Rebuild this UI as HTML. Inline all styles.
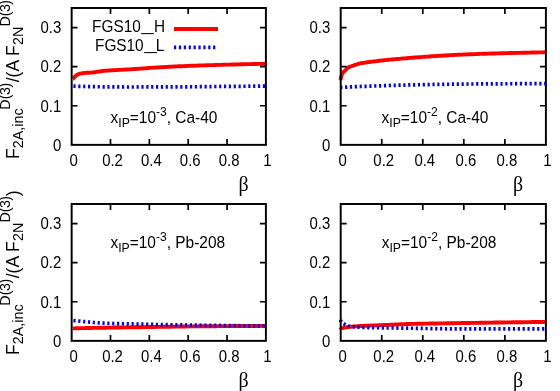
<!DOCTYPE html>
<html><head><meta charset="utf-8"><title>plot</title>
<style>
html,body{margin:0;padding:0;background:#fff;}
body{width:560px;height:391px;overflow:hidden;font-family:"Liberation Sans",sans-serif;}
svg{display:block;will-change:transform;}
text{font-family:"Liberation Sans",sans-serif;fill:#000;}
.sym{font-family:"Liberation Serif",serif;}
</style></head><body>
<svg width="560" height="391" viewBox="0 0 560 391">
<rect x="0" y="0" width="560" height="391" fill="#ffffff"/>
<g>
<path d="M72.82,78.78 L72.83,78.77 L72.87,78.75 L72.94,78.73 L73.03,78.68 L73.15,78.61 L73.30,78.50 L73.47,78.33 L73.67,78.10 L73.90,77.83 L74.16,77.51 L74.44,77.16 L74.75,76.80 L75.08,76.44 L75.44,76.11 L75.83,75.80 L76.25,75.48 L76.69,75.15 L77.16,74.82 L77.66,74.52 L78.18,74.25 L78.73,74.04 L79.31,73.87 L79.91,73.71 L80.54,73.57 L81.20,73.43 L81.88,73.31 L82.59,73.20 L83.33,73.11 L84.09,73.02 L84.88,72.94 L85.70,72.87 L86.55,72.82 L87.42,72.77 L88.32,72.73 L89.24,72.69 L90.19,72.64 L91.17,72.58 L92.18,72.51 L93.21,72.40 L94.27,72.26 L95.36,72.11 L96.47,71.94 L97.61,71.76 L98.77,71.57 L99.97,71.39 L101.19,71.21 L102.44,71.05 L103.71,70.91 L105.01,70.79 L106.34,70.68 L107.69,70.58 L109.07,70.48 L110.48,70.39 L111.92,70.31 L113.38,70.23 L114.87,70.15 L116.38,70.07 L117.92,69.99 L119.49,69.91 L121.09,69.83 L122.71,69.75 L124.36,69.66 L126.03,69.57 L127.74,69.48 L129.47,69.38 L131.22,69.27 L133.01,69.15 L134.82,69.03 L136.65,68.90 L138.52,68.77 L140.41,68.63 L142.33,68.49 L144.27,68.35 L146.24,68.21 L148.24,68.06 L150.26,67.92 L152.32,67.78 L154.39,67.64 L156.50,67.50 L158.63,67.36 L160.79,67.23 L162.98,67.11 L165.19,66.99 L167.43,66.87 L169.69,66.75 L171.99,66.64 L174.31,66.53 L176.65,66.42 L179.03,66.31 L181.43,66.20 L183.85,66.09 L186.31,65.99 L188.79,65.89 L191.29,65.79 L193.83,65.69 L196.39,65.60 L198.98,65.51 L201.59,65.42 L204.23,65.33 L206.90,65.25 L209.60,65.16 L212.32,65.08 L215.07,64.99 L217.84,64.91 L220.65,64.83 L223.48,64.75 L226.33,64.67 L229.21,64.59 L232.12,64.52 L235.06,64.44 L238.02,64.37 L241.01,64.30 L244.03,64.23 L247.07,64.16 L250.14,64.10 L253.24,64.03 L256.37,63.97 L259.52,63.91 L262.70,63.85 L265.90,63.80" fill="none" stroke="#ff0000" stroke-width="3.9" stroke-linejoin="round" stroke-linecap="butt"/>
<path d="M72.82,86.03 L72.83,86.03 L72.87,86.04 L72.94,86.04 L73.03,86.05 L73.15,86.06 L73.30,86.07 L73.47,86.08 L73.67,86.10 L73.90,86.11 L74.16,86.13 L74.44,86.15 L74.75,86.16 L75.08,86.18 L75.44,86.20 L75.83,86.21 L76.25,86.23 L76.69,86.25 L77.16,86.27 L77.66,86.29 L78.18,86.30 L78.73,86.32 L79.31,86.34 L79.91,86.36 L80.54,86.37 L81.20,86.39 L81.88,86.41 L82.59,86.43 L83.33,86.44 L84.09,86.46 L84.88,86.48 L85.70,86.50 L86.55,86.52 L87.42,86.54 L88.32,86.56 L89.24,86.58 L90.19,86.60 L91.17,86.62 L92.18,86.64 L93.21,86.66 L94.27,86.67 L95.36,86.69 L96.47,86.71 L97.61,86.73 L98.77,86.75 L99.97,86.77 L101.19,86.79 L102.44,86.80 L103.71,86.82 L105.01,86.84 L106.34,86.85 L107.69,86.87 L109.07,86.88 L110.48,86.89 L111.92,86.91 L113.38,86.92 L114.87,86.93 L116.38,86.94 L117.92,86.95 L119.49,86.96 L121.09,86.96 L122.71,86.97 L124.36,86.98 L126.03,86.98 L127.74,86.98 L129.47,86.98 L131.22,86.98 L133.01,86.98 L134.82,86.98 L136.65,86.98 L138.52,86.97 L140.41,86.97 L142.33,86.97 L144.27,86.96 L146.24,86.96 L148.24,86.95 L150.26,86.95 L152.32,86.94 L154.39,86.93 L156.50,86.93 L158.63,86.92 L160.79,86.91 L162.98,86.90 L165.19,86.89 L167.43,86.88 L169.69,86.87 L171.99,86.86 L174.31,86.85 L176.65,86.84 L179.03,86.83 L181.43,86.82 L183.85,86.81 L186.31,86.80 L188.79,86.78 L191.29,86.77 L193.83,86.75 L196.39,86.73 L198.98,86.70 L201.59,86.68 L204.23,86.65 L206.90,86.62 L209.60,86.58 L212.32,86.55 L215.07,86.52 L217.84,86.49 L220.65,86.46 L223.48,86.43 L226.33,86.40 L229.21,86.38 L232.12,86.35 L235.06,86.33 L238.02,86.30 L241.01,86.28 L244.03,86.25 L247.07,86.23 L250.14,86.20 L253.24,86.18 L256.37,86.15 L259.52,86.13 L262.70,86.11 L265.90,86.08" fill="none" stroke="#0000ff" stroke-width="3.7" stroke-dasharray="2.2 2.657" stroke-dashoffset="-0.60" stroke-linejoin="round"/>
<rect x="71.65" y="8.00" width="194.25" height="136.85" fill="none" stroke="#000" stroke-width="1.95"/>
<path d="M110.50,144.85v-5.90 M110.50,8.00v5.90 M149.35,144.85v-5.90 M149.35,8.00v5.90 M188.20,144.85v-5.90 M188.20,8.00v5.90 M227.05,144.85v-5.90 M227.05,8.00v5.90 M71.65,105.75h5.90 M265.90,105.75h-5.90 M71.65,66.65h5.90 M265.90,66.65h-5.90 M71.65,27.55h5.90 M265.90,27.55h-5.90" stroke="#000" stroke-width="1.7" fill="none"/>
<text transform="translate(73.65,166.05) scale(0.945,1)" font-size="15.80" text-anchor="middle">0</text>
<text transform="translate(112.50,166.05) scale(0.945,1)" font-size="15.80" text-anchor="middle">0.2</text>
<text transform="translate(151.35,166.05) scale(0.945,1)" font-size="15.80" text-anchor="middle">0.4</text>
<text transform="translate(190.20,166.05) scale(0.945,1)" font-size="15.80" text-anchor="middle">0.6</text>
<text transform="translate(229.05,166.05) scale(0.945,1)" font-size="15.80" text-anchor="middle">0.8</text>
<text transform="translate(267.30,166.05) scale(0.945,1)" font-size="15.80" text-anchor="middle">1</text>
<text transform="translate(61.25,150.65) scale(0.945,1)" font-size="15.80" text-anchor="end">0</text>
<text transform="translate(61.25,111.55) scale(0.945,1)" font-size="15.80" text-anchor="end">0.1</text>
<text transform="translate(61.25,72.45) scale(0.945,1)" font-size="15.80" text-anchor="end">0.2</text>
<text transform="translate(61.25,33.35) scale(0.945,1)" font-size="15.80" text-anchor="end">0.3</text>
<text transform="translate(243.65,191.00) scale(0.910,1)" font-size="21.90" text-anchor="middle" class="sym">β</text>
<text transform="translate(110.50,123.10) scale(0.950,1)" font-size="16.30">x<tspan font-size="12.88" dy="4">IP</tspan><tspan dy="-4">=10</tspan><tspan font-size="12.71" dy="-7.5">-3</tspan><tspan dy="7.5">, Ca-40</tspan></text>
</g>
<g>
<path d="M340.70,80.33 L340.71,79.71 L340.76,79.09 L340.83,78.47 L340.93,77.84 L341.06,77.22 L341.21,76.59 L341.40,75.96 L341.61,75.29 L341.85,74.62 L342.12,73.96 L342.42,73.35 L342.75,72.82 L343.11,72.36 L343.49,71.95 L343.91,71.57 L344.35,71.19 L344.82,70.80 L345.32,70.36 L345.84,69.84 L346.40,69.18 L346.98,68.49 L347.60,67.89 L348.24,67.48 L348.91,67.12 L349.61,66.81 L350.33,66.53 L351.09,66.27 L351.87,66.02 L352.68,65.77 L353.52,65.50 L354.39,65.22 L355.29,64.91 L356.22,64.59 L357.17,64.27 L358.16,63.96 L359.17,63.67 L360.21,63.41 L361.28,63.19 L362.37,62.99 L363.50,62.80 L364.65,62.63 L365.84,62.46 L367.05,62.30 L368.29,62.15 L369.56,61.99 L370.85,61.83 L372.18,61.67 L373.53,61.50 L374.91,61.33 L376.32,61.15 L377.76,60.97 L379.23,60.79 L380.73,60.61 L382.25,60.44 L383.81,60.26 L385.39,60.09 L387.00,59.93 L388.64,59.76 L390.30,59.60 L392.00,59.45 L393.72,59.29 L395.48,59.14 L397.26,58.98 L399.07,58.83 L400.91,58.67 L402.77,58.51 L404.67,58.35 L406.59,58.19 L408.54,58.03 L410.52,57.87 L412.53,57.71 L414.57,57.55 L416.64,57.39 L418.73,57.23 L420.86,57.07 L423.01,56.91 L425.19,56.75 L427.40,56.60 L429.63,56.45 L431.90,56.30 L434.19,56.15 L436.52,56.00 L438.87,55.86 L441.25,55.72 L443.66,55.57 L446.09,55.43 L448.56,55.29 L451.05,55.15 L453.57,55.01 L456.12,54.88 L458.70,54.75 L461.31,54.63 L463.95,54.51 L466.61,54.39 L469.31,54.28 L472.03,54.18 L474.78,54.08 L477.56,53.98 L480.36,53.89 L483.20,53.80 L486.06,53.71 L488.96,53.63 L491.88,53.55 L494.83,53.47 L497.81,53.39 L500.81,53.31 L503.85,53.23 L506.91,53.15 L510.00,53.07 L513.12,52.99 L516.27,52.91 L519.45,52.83 L522.66,52.76 L525.89,52.69 L529.16,52.61 L532.45,52.54 L535.77,52.47 L539.12,52.40 L542.49,52.33 L545.90,52.26" fill="none" stroke="#ff0000" stroke-width="3.9" stroke-linejoin="round" stroke-linecap="butt"/>
<path d="M340.70,87.29 L340.71,87.29 L340.76,87.29 L340.83,87.29 L340.93,87.28 L341.06,87.28 L341.21,87.27 L341.40,87.26 L341.61,87.25 L341.85,87.24 L342.12,87.23 L342.42,87.22 L342.75,87.21 L343.11,87.19 L343.49,87.18 L343.91,87.17 L344.35,87.15 L344.82,87.14 L345.32,87.12 L345.84,87.10 L346.40,87.08 L346.98,87.05 L347.60,87.02 L348.24,86.99 L348.91,86.96 L349.61,86.93 L350.33,86.89 L351.09,86.85 L351.87,86.82 L352.68,86.78 L353.52,86.74 L354.39,86.70 L355.29,86.66 L356.22,86.63 L357.17,86.59 L358.16,86.55 L359.17,86.52 L360.21,86.48 L361.28,86.44 L362.37,86.40 L363.50,86.36 L364.65,86.33 L365.84,86.29 L367.05,86.25 L368.29,86.20 L369.56,86.16 L370.85,86.12 L372.18,86.08 L373.53,86.03 L374.91,85.99 L376.32,85.94 L377.76,85.89 L379.23,85.84 L380.73,85.79 L382.25,85.74 L383.81,85.68 L385.39,85.62 L387.00,85.57 L388.64,85.51 L390.30,85.45 L392.00,85.40 L393.72,85.34 L395.48,85.29 L397.26,85.24 L399.07,85.19 L400.91,85.14 L402.77,85.09 L404.67,85.05 L406.59,85.00 L408.54,84.96 L410.52,84.92 L412.53,84.87 L414.57,84.83 L416.64,84.78 L418.73,84.74 L420.86,84.70 L423.01,84.66 L425.19,84.62 L427.40,84.57 L429.63,84.53 L431.90,84.49 L434.19,84.45 L436.52,84.42 L438.87,84.38 L441.25,84.34 L443.66,84.31 L446.09,84.27 L448.56,84.24 L451.05,84.21 L453.57,84.18 L456.12,84.15 L458.70,84.12 L461.31,84.09 L463.95,84.06 L466.61,84.04 L469.31,84.02 L472.03,83.99 L474.78,83.97 L477.56,83.95 L480.36,83.93 L483.20,83.91 L486.06,83.89 L488.96,83.87 L491.88,83.85 L494.83,83.83 L497.81,83.81 L500.81,83.79 L503.85,83.78 L506.91,83.76 L510.00,83.74 L513.12,83.73 L516.27,83.71 L519.45,83.70 L522.66,83.69 L525.89,83.67 L529.16,83.66 L532.45,83.65 L535.77,83.64 L539.12,83.63 L542.49,83.63 L545.90,83.62" fill="none" stroke="#0000ff" stroke-width="3.7" stroke-dasharray="2.2 2.657" stroke-dashoffset="0.50" stroke-linejoin="round"/>
<rect x="340.70" y="8.00" width="205.20" height="136.85" fill="none" stroke="#000" stroke-width="1.95"/>
<path d="M381.74,144.85v-5.90 M381.74,8.00v5.90 M422.78,144.85v-5.90 M422.78,8.00v5.90 M463.82,144.85v-5.90 M463.82,8.00v5.90 M504.86,144.85v-5.90 M504.86,8.00v5.90 M340.70,105.75h5.90 M545.90,105.75h-5.90 M340.70,66.65h5.90 M545.90,66.65h-5.90 M340.70,27.55h5.90 M545.90,27.55h-5.90" stroke="#000" stroke-width="1.7" fill="none"/>
<text transform="translate(342.70,166.05) scale(0.945,1)" font-size="15.80" text-anchor="middle">0</text>
<text transform="translate(383.74,166.05) scale(0.945,1)" font-size="15.80" text-anchor="middle">0.2</text>
<text transform="translate(424.78,166.05) scale(0.945,1)" font-size="15.80" text-anchor="middle">0.4</text>
<text transform="translate(465.82,166.05) scale(0.945,1)" font-size="15.80" text-anchor="middle">0.6</text>
<text transform="translate(506.86,166.05) scale(0.945,1)" font-size="15.80" text-anchor="middle">0.8</text>
<text transform="translate(547.30,166.05) scale(0.945,1)" font-size="15.80" text-anchor="middle">1</text>
<text transform="translate(330.30,150.65) scale(0.945,1)" font-size="15.80" text-anchor="end">0</text>
<text transform="translate(330.30,111.55) scale(0.945,1)" font-size="15.80" text-anchor="end">0.1</text>
<text transform="translate(330.30,72.45) scale(0.945,1)" font-size="15.80" text-anchor="end">0.2</text>
<text transform="translate(330.30,33.35) scale(0.945,1)" font-size="15.80" text-anchor="end">0.3</text>
<text transform="translate(518.05,191.00) scale(0.910,1)" font-size="21.90" text-anchor="middle" class="sym">β</text>
<text transform="translate(381.50,123.10) scale(0.950,1)" font-size="16.30">x<tspan font-size="12.88" dy="4">IP</tspan><tspan dy="-4">=10</tspan><tspan font-size="12.71" dy="-7.5">-2</tspan><tspan dy="7.5">, Ca-40</tspan></text>
</g>
<g>
<path d="M72.82,328.44 L72.83,328.44 L72.87,328.43 L72.94,328.43 L73.03,328.43 L73.15,328.42 L73.30,328.41 L73.47,328.41 L73.67,328.40 L73.90,328.39 L74.16,328.38 L74.44,328.37 L74.75,328.36 L75.08,328.35 L75.44,328.33 L75.83,328.32 L76.25,328.31 L76.69,328.30 L77.16,328.28 L77.66,328.27 L78.18,328.25 L78.73,328.24 L79.31,328.22 L79.91,328.21 L80.54,328.19 L81.20,328.17 L81.88,328.16 L82.59,328.14 L83.33,328.12 L84.09,328.11 L84.88,328.09 L85.70,328.07 L86.55,328.05 L87.42,328.03 L88.32,328.01 L89.24,327.99 L90.19,327.97 L91.17,327.95 L92.18,327.94 L93.21,327.91 L94.27,327.89 L95.36,327.87 L96.47,327.85 L97.61,327.83 L98.77,327.81 L99.97,327.79 L101.19,327.77 L102.44,327.75 L103.71,327.72 L105.01,327.70 L106.34,327.68 L107.69,327.66 L109.07,327.63 L110.48,327.61 L111.92,327.59 L113.38,327.57 L114.87,327.54 L116.38,327.52 L117.92,327.50 L119.49,327.47 L121.09,327.45 L122.71,327.42 L124.36,327.40 L126.03,327.38 L127.74,327.35 L129.47,327.33 L131.22,327.30 L133.01,327.28 L134.82,327.26 L136.65,327.23 L138.52,327.20 L140.41,327.18 L142.33,327.15 L144.27,327.12 L146.24,327.08 L148.24,327.05 L150.26,327.02 L152.32,326.98 L154.39,326.95 L156.50,326.91 L158.63,326.87 L160.79,326.84 L162.98,326.80 L165.19,326.76 L167.43,326.73 L169.69,326.69 L171.99,326.65 L174.31,326.62 L176.65,326.58 L179.03,326.55 L181.43,326.51 L183.85,326.48 L186.31,326.45 L188.79,326.42 L191.29,326.39 L193.83,326.36 L196.39,326.34 L198.98,326.31 L201.59,326.29 L204.23,326.27 L206.90,326.25 L209.60,326.23 L212.32,326.20 L215.07,326.18 L217.84,326.16 L220.65,326.14 L223.48,326.12 L226.33,326.11 L229.21,326.09 L232.12,326.07 L235.06,326.05 L238.02,326.04 L241.01,326.02 L244.03,326.00 L247.07,325.99 L250.14,325.98 L253.24,325.96 L256.37,325.95 L259.52,325.94 L262.70,325.92 L265.90,325.91" fill="none" stroke="#ff0000" stroke-width="3.9" stroke-linejoin="round" stroke-linecap="butt"/>
<path d="M72.82,320.42 L72.83,320.42 L72.87,320.43 L72.94,320.43 L73.03,320.45 L73.15,320.46 L73.30,320.48 L73.47,320.50 L73.67,320.53 L73.90,320.56 L74.16,320.58 L74.44,320.62 L74.75,320.65 L75.08,320.68 L75.44,320.72 L75.83,320.76 L76.25,320.80 L76.69,320.84 L77.16,320.88 L77.66,320.92 L78.18,320.97 L78.73,321.03 L79.31,321.08 L79.91,321.15 L80.54,321.22 L81.20,321.29 L81.88,321.36 L82.59,321.43 L83.33,321.51 L84.09,321.58 L84.88,321.66 L85.70,321.73 L86.55,321.81 L87.42,321.89 L88.32,321.97 L89.24,322.06 L90.19,322.15 L91.17,322.24 L92.18,322.33 L93.21,322.42 L94.27,322.51 L95.36,322.59 L96.47,322.68 L97.61,322.77 L98.77,322.85 L99.97,322.92 L101.19,323.00 L102.44,323.07 L103.71,323.13 L105.01,323.19 L106.34,323.25 L107.69,323.30 L109.07,323.35 L110.48,323.40 L111.92,323.45 L113.38,323.49 L114.87,323.53 L116.38,323.58 L117.92,323.62 L119.49,323.66 L121.09,323.70 L122.71,323.74 L124.36,323.78 L126.03,323.82 L127.74,323.86 L129.47,323.89 L131.22,323.93 L133.01,323.97 L134.82,324.02 L136.65,324.06 L138.52,324.10 L140.41,324.14 L142.33,324.18 L144.27,324.23 L146.24,324.27 L148.24,324.31 L150.26,324.35 L152.32,324.39 L154.39,324.44 L156.50,324.48 L158.63,324.52 L160.79,324.56 L162.98,324.60 L165.19,324.64 L167.43,324.69 L169.69,324.73 L171.99,324.77 L174.31,324.81 L176.65,324.85 L179.03,324.89 L181.43,324.93 L183.85,324.97 L186.31,325.01 L188.79,325.05 L191.29,325.08 L193.83,325.12 L196.39,325.16 L198.98,325.20 L201.59,325.23 L204.23,325.27 L206.90,325.31 L209.60,325.34 L212.32,325.38 L215.07,325.42 L217.84,325.45 L220.65,325.49 L223.48,325.52 L226.33,325.56 L229.21,325.59 L232.12,325.63 L235.06,325.66 L238.02,325.70 L241.01,325.73 L244.03,325.76 L247.07,325.80 L250.14,325.83 L253.24,325.86 L256.37,325.90 L259.52,325.93 L262.70,325.96 L265.90,325.99" fill="none" stroke="#0000ff" stroke-width="3.7" stroke-dasharray="2.2 2.657" stroke-dashoffset="-0.60" stroke-linejoin="round"/>
<rect x="71.65" y="204.00" width="194.25" height="136.85" fill="none" stroke="#000" stroke-width="1.95"/>
<path d="M110.50,340.85v-5.90 M110.50,204.00v5.90 M149.35,340.85v-5.90 M149.35,204.00v5.90 M188.20,340.85v-5.90 M188.20,204.00v5.90 M227.05,340.85v-5.90 M227.05,204.00v5.90 M71.65,301.75h5.90 M265.90,301.75h-5.90 M71.65,262.65h5.90 M265.90,262.65h-5.90 M71.65,223.55h5.90 M265.90,223.55h-5.90" stroke="#000" stroke-width="1.7" fill="none"/>
<text transform="translate(73.65,362.05) scale(0.945,1)" font-size="15.80" text-anchor="middle">0</text>
<text transform="translate(112.50,362.05) scale(0.945,1)" font-size="15.80" text-anchor="middle">0.2</text>
<text transform="translate(151.35,362.05) scale(0.945,1)" font-size="15.80" text-anchor="middle">0.4</text>
<text transform="translate(190.20,362.05) scale(0.945,1)" font-size="15.80" text-anchor="middle">0.6</text>
<text transform="translate(229.05,362.05) scale(0.945,1)" font-size="15.80" text-anchor="middle">0.8</text>
<text transform="translate(267.30,362.05) scale(0.945,1)" font-size="15.80" text-anchor="middle">1</text>
<text transform="translate(61.25,346.65) scale(0.945,1)" font-size="15.80" text-anchor="end">0</text>
<text transform="translate(61.25,307.55) scale(0.945,1)" font-size="15.80" text-anchor="end">0.1</text>
<text transform="translate(61.25,268.45) scale(0.945,1)" font-size="15.80" text-anchor="end">0.2</text>
<text transform="translate(61.25,229.35) scale(0.945,1)" font-size="15.80" text-anchor="end">0.3</text>
<text transform="translate(243.65,387.00) scale(0.910,1)" font-size="21.90" text-anchor="middle" class="sym">β</text>
<text transform="translate(110.40,248.20) scale(0.950,1)" font-size="16.30">x<tspan font-size="12.88" dy="4">IP</tspan><tspan dy="-4">=10</tspan><tspan font-size="12.71" dy="-7.5">-3</tspan><tspan dy="7.5">, Pb-208</tspan></text>
</g>
<g>
<path d="M340.70,329.35 L340.71,329.24 L340.76,329.12 L340.83,329.00 L340.93,328.89 L341.06,328.77 L341.21,328.66 L341.40,328.55 L341.61,328.44 L341.85,328.34 L342.12,328.23 L342.42,328.13 L342.75,328.03 L343.11,327.93 L343.49,327.83 L343.91,327.74 L344.35,327.64 L344.82,327.55 L345.32,327.46 L345.84,327.37 L346.40,327.28 L346.98,327.20 L347.60,327.11 L348.24,327.03 L348.91,326.95 L349.61,326.87 L350.33,326.80 L351.09,326.72 L351.87,326.65 L352.68,326.58 L353.52,326.51 L354.39,326.44 L355.29,326.38 L356.22,326.31 L357.17,326.24 L358.16,326.18 L359.17,326.12 L360.21,326.05 L361.28,325.99 L362.37,325.93 L363.50,325.88 L364.65,325.82 L365.84,325.77 L367.05,325.72 L368.29,325.66 L369.56,325.61 L370.85,325.56 L372.18,325.51 L373.53,325.46 L374.91,325.41 L376.32,325.36 L377.76,325.31 L379.23,325.25 L380.73,325.19 L382.25,325.14 L383.81,325.07 L385.39,325.01 L387.00,324.94 L388.64,324.87 L390.30,324.79 L392.00,324.70 L393.72,324.61 L395.48,324.52 L397.26,324.43 L399.07,324.34 L400.91,324.26 L402.77,324.19 L404.67,324.12 L406.59,324.07 L408.54,324.01 L410.52,323.96 L412.53,323.91 L414.57,323.86 L416.64,323.81 L418.73,323.77 L420.86,323.72 L423.01,323.68 L425.19,323.64 L427.40,323.60 L429.63,323.56 L431.90,323.52 L434.19,323.48 L436.52,323.44 L438.87,323.41 L441.25,323.37 L443.66,323.33 L446.09,323.30 L448.56,323.26 L451.05,323.22 L453.57,323.19 L456.12,323.15 L458.70,323.11 L461.31,323.07 L463.95,323.03 L466.61,322.99 L469.31,322.95 L472.03,322.91 L474.78,322.87 L477.56,322.83 L480.36,322.78 L483.20,322.74 L486.06,322.70 L488.96,322.66 L491.88,322.61 L494.83,322.57 L497.81,322.53 L500.81,322.49 L503.85,322.44 L506.91,322.40 L510.00,322.36 L513.12,322.32 L516.27,322.27 L519.45,322.23 L522.66,322.19 L525.89,322.14 L529.16,322.10 L532.45,322.06 L535.77,322.02 L539.12,321.97 L542.49,321.93 L545.90,321.89" fill="none" stroke="#ff0000" stroke-width="3.9" stroke-linejoin="round" stroke-linecap="butt"/>
<path d="M340.70,319.93 L340.71,320.19 L340.76,320.44 L340.83,320.70 L340.93,320.95 L341.06,321.21 L341.21,321.47 L341.40,321.73 L341.61,321.98 L341.85,322.24 L342.12,322.50 L342.42,322.76 L342.75,323.02 L343.11,323.28 L343.49,323.54 L343.91,323.80 L344.35,324.06 L344.82,324.35 L345.32,324.66 L345.84,324.96 L346.40,325.25 L346.98,325.53 L347.60,325.78 L348.24,325.99 L348.91,326.15 L349.61,326.27 L350.33,326.38 L351.09,326.48 L351.87,326.57 L352.68,326.65 L353.52,326.72 L354.39,326.79 L355.29,326.86 L356.22,326.92 L357.17,326.99 L358.16,327.05 L359.17,327.11 L360.21,327.17 L361.28,327.23 L362.37,327.28 L363.50,327.34 L364.65,327.39 L365.84,327.44 L367.05,327.48 L368.29,327.53 L369.56,327.57 L370.85,327.61 L372.18,327.64 L373.53,327.68 L374.91,327.71 L376.32,327.74 L377.76,327.77 L379.23,327.80 L380.73,327.82 L382.25,327.85 L383.81,327.87 L385.39,327.89 L387.00,327.92 L388.64,327.94 L390.30,327.96 L392.00,327.98 L393.72,328.00 L395.48,328.02 L397.26,328.04 L399.07,328.07 L400.91,328.09 L402.77,328.11 L404.67,328.14 L406.59,328.17 L408.54,328.19 L410.52,328.22 L412.53,328.26 L414.57,328.29 L416.64,328.33 L418.73,328.36 L420.86,328.40 L423.01,328.43 L425.19,328.47 L427.40,328.51 L429.63,328.55 L431.90,328.58 L434.19,328.62 L436.52,328.65 L438.87,328.69 L441.25,328.72 L443.66,328.75 L446.09,328.78 L448.56,328.81 L451.05,328.83 L453.57,328.85 L456.12,328.87 L458.70,328.89 L461.31,328.90 L463.95,328.91 L466.61,328.92 L469.31,328.92 L472.03,328.92 L474.78,328.92 L477.56,328.92 L480.36,328.92 L483.20,328.92 L486.06,328.92 L488.96,328.92 L491.88,328.92 L494.83,328.92 L497.81,328.92 L500.81,328.92 L503.85,328.92 L506.91,328.92 L510.00,328.92 L513.12,328.92 L516.27,328.92 L519.45,328.92 L522.66,328.92 L525.89,328.92 L529.16,328.92 L532.45,328.92 L535.77,328.92 L539.12,328.92 L542.49,328.92 L545.90,328.92" fill="none" stroke="#0000ff" stroke-width="3.7" stroke-dasharray="2.2 2.657" stroke-dashoffset="0.00" stroke-linejoin="round"/>
<rect x="340.70" y="204.00" width="205.20" height="136.85" fill="none" stroke="#000" stroke-width="1.95"/>
<path d="M381.74,340.85v-5.90 M381.74,204.00v5.90 M422.78,340.85v-5.90 M422.78,204.00v5.90 M463.82,340.85v-5.90 M463.82,204.00v5.90 M504.86,340.85v-5.90 M504.86,204.00v5.90 M340.70,301.75h5.90 M545.90,301.75h-5.90 M340.70,262.65h5.90 M545.90,262.65h-5.90 M340.70,223.55h5.90 M545.90,223.55h-5.90" stroke="#000" stroke-width="1.7" fill="none"/>
<text transform="translate(342.70,362.05) scale(0.945,1)" font-size="15.80" text-anchor="middle">0</text>
<text transform="translate(383.74,362.05) scale(0.945,1)" font-size="15.80" text-anchor="middle">0.2</text>
<text transform="translate(424.78,362.05) scale(0.945,1)" font-size="15.80" text-anchor="middle">0.4</text>
<text transform="translate(465.82,362.05) scale(0.945,1)" font-size="15.80" text-anchor="middle">0.6</text>
<text transform="translate(506.86,362.05) scale(0.945,1)" font-size="15.80" text-anchor="middle">0.8</text>
<text transform="translate(547.30,362.05) scale(0.945,1)" font-size="15.80" text-anchor="middle">1</text>
<text transform="translate(330.30,346.65) scale(0.945,1)" font-size="15.80" text-anchor="end">0</text>
<text transform="translate(330.30,307.55) scale(0.945,1)" font-size="15.80" text-anchor="end">0.1</text>
<text transform="translate(330.30,268.45) scale(0.945,1)" font-size="15.80" text-anchor="end">0.2</text>
<text transform="translate(330.30,229.35) scale(0.945,1)" font-size="15.80" text-anchor="end">0.3</text>
<text transform="translate(518.05,387.00) scale(0.910,1)" font-size="21.90" text-anchor="middle" class="sym">β</text>
<text transform="translate(381.70,248.20) scale(0.950,1)" font-size="16.30">x<tspan font-size="12.88" dy="4">IP</tspan><tspan dy="-4">=10</tspan><tspan font-size="12.71" dy="-7.5">-2</tspan><tspan dy="7.5">, Pb-208</tspan></text>
</g>
<text transform="translate(92.10,32.40) scale(0.937,1)" font-size="16.40" text-anchor="start">FGS10</text>
<text transform="translate(141.60,31.30) scale(1.333,1)" font-size="16.40" text-anchor="start">_</text>
<text transform="translate(165.00,32.40) scale(0.937,1)" font-size="16.40" text-anchor="end">H</text>
<text transform="translate(95.00,50.80) scale(0.937,1)" font-size="16.40" text-anchor="start">FGS10</text>
<text transform="translate(144.60,49.70) scale(1.333,1)" font-size="16.40" text-anchor="start">_</text>
<text transform="translate(164.30,50.80) scale(0.937,1)" font-size="16.40" text-anchor="end">L</text>
<path d="M174.0,29.0H218.0" stroke="#ff0000" stroke-width="3.9" fill="none"/>
<path d="M174.0,47.3H216" stroke="#0000ff" stroke-width="3.7" stroke-dasharray="2.2 2.69" fill="none"/>
<text transform="translate(18.95,158.90) rotate(-90) scale(1,1)" font-size="17.50">F<tspan font-size="14.30" dy="4.2">2A,inc</tspan><tspan font-size="14.30" dy="-13.3" dx="-1.2 0 -0.4 -0.5">D(3)</tspan><tspan dy="9.1" dx="0.5">/(A F</tspan><tspan font-size="14.30" dy="4.2" dx="0.4">2N</tspan><tspan font-size="14.30" dy="-13.3" dx="0 0 -0.6 -0.5">D(3)</tspan><tspan dy="9.1" dx="-0.3">)</tspan></text>
<text transform="translate(18.95,354.90) rotate(-90) scale(1,1)" font-size="17.50">F<tspan font-size="14.30" dy="4.2">2A,inc</tspan><tspan font-size="14.30" dy="-13.3" dx="-1.2 0 -0.4 -0.5">D(3)</tspan><tspan dy="9.1" dx="0.5">/(A F</tspan><tspan font-size="14.30" dy="4.2" dx="0.4">2N</tspan><tspan font-size="14.30" dy="-13.3" dx="0 0 -0.6 -0.5">D(3)</tspan><tspan dy="9.1" dx="-0.3">)</tspan></text>
</svg>
</body></html>
